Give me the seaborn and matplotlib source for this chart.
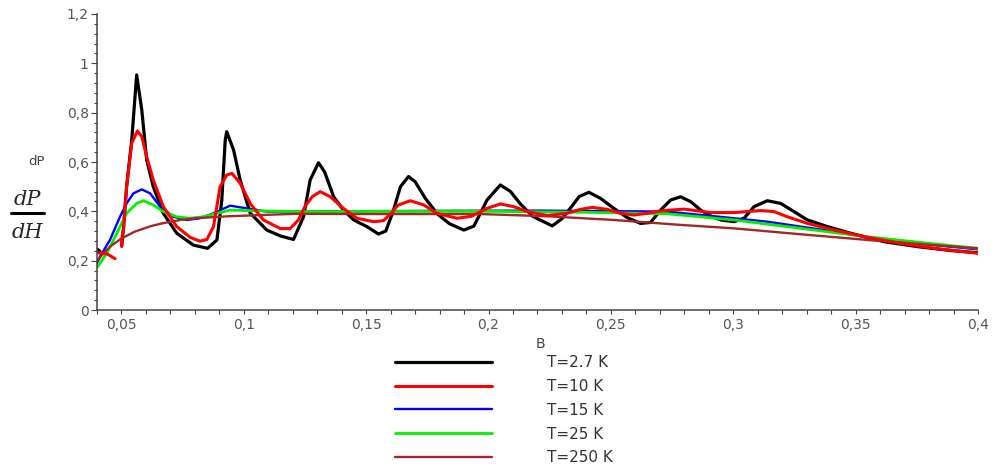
import matplotlib
matplotlib.use("Agg")
import matplotlib.pyplot as plt
from matplotlib.lines import Line2D
from matplotlib.ticker import MultipleLocator, FuncFormatter
import pandas as pd
import seaborn as sns

# T = 2.7 K (short stub at the left edge + main curve)
B_27_A = [0.0400, 0.0412]
DP_27_A = [0.247, 0.238]
B_27 = [0.0501, 0.0508, 0.0521, 0.0542, 0.0555, 0.0562, 0.0583, 0.0603, 0.0630, 0.0671,
        0.0726, 0.0794, 0.0852, 0.0890, 0.0910, 0.0924, 0.0930, 0.0958, 0.0985, 0.1026,
        0.1094, 0.1150, 0.1203, 0.1244, 0.1271, 0.1305, 0.1330, 0.1367, 0.1407, 0.1449,
        0.1503, 0.1550, 0.1580, 0.1610, 0.1640, 0.1673, 0.1700, 0.1740, 0.1790, 0.1840,
        0.1899, 0.1940, 0.1994, 0.2048, 0.2090, 0.2130, 0.2180, 0.2260, 0.2300, 0.2340,
        0.2370, 0.2410, 0.2457, 0.2512, 0.2566, 0.2621, 0.2662, 0.2703, 0.2744, 0.2785,
        0.2826, 0.2867, 0.2908, 0.2949, 0.3003, 0.3044, 0.3085, 0.3139, 0.3194, 0.3248,
        0.3303, 0.3385, 0.3480, 0.3616, 0.3752, 0.3889, 0.4000]
DP_27 = [0.262, 0.330, 0.500, 0.690, 0.860, 0.953, 0.811, 0.608, 0.500, 0.392,
         0.311, 0.263, 0.250, 0.284, 0.446, 0.689, 0.723, 0.649, 0.527, 0.393,
         0.324, 0.300, 0.286, 0.378, 0.527, 0.597, 0.560, 0.459, 0.405, 0.365,
         0.338, 0.308, 0.320, 0.400, 0.500, 0.541, 0.520, 0.455, 0.390, 0.350,
         0.324, 0.340, 0.446, 0.507, 0.480, 0.430, 0.380, 0.341, 0.370, 0.420,
         0.460, 0.477, 0.453, 0.412, 0.375, 0.351, 0.355, 0.405, 0.446, 0.459,
         0.439, 0.405, 0.381, 0.365, 0.358, 0.372, 0.419, 0.443, 0.432, 0.399,
         0.365, 0.338, 0.311, 0.277, 0.257, 0.241, 0.232]

# T = 10 K
B_10_A = [0.0400, 0.0440, 0.0474]
DP_10_A = [0.232, 0.228, 0.208]
B_10 = [0.0501, 0.0503, 0.0508, 0.0521, 0.0542, 0.0565, 0.0583, 0.0603, 0.0630, 0.0671,
        0.0726, 0.0780, 0.0821, 0.0849, 0.0876, 0.0903, 0.0930, 0.0951, 0.0985, 0.1026,
        0.1080, 0.1149, 0.1189, 0.1223, 0.1250, 0.1280, 0.1312, 0.1353, 0.1407, 0.1462,
        0.1530, 0.1570, 0.1600, 0.1630, 0.1680, 0.1735, 0.1789, 0.1871, 0.1930, 0.1994,
        0.2048, 0.2103, 0.2158, 0.2240, 0.2321, 0.2376, 0.2424, 0.2485, 0.2539, 0.2594,
        0.2648, 0.2703, 0.2798, 0.2908, 0.3003, 0.3112, 0.3166, 0.3221, 0.3303, 0.3412,
        0.3548, 0.3685, 0.3821, 0.4000]
DP_10 = [0.257, 0.300, 0.324, 0.500, 0.676, 0.726, 0.703, 0.622, 0.527, 0.419,
         0.338, 0.295, 0.279, 0.286, 0.338, 0.500, 0.547, 0.554, 0.514, 0.432,
         0.365, 0.330, 0.330, 0.365, 0.420, 0.460, 0.480, 0.459, 0.412, 0.372,
         0.358, 0.362, 0.390, 0.425, 0.443, 0.426, 0.392, 0.372, 0.380, 0.412,
         0.430, 0.419, 0.399, 0.383, 0.392, 0.408, 0.416, 0.408, 0.392, 0.385,
         0.392, 0.402, 0.409, 0.395, 0.395, 0.403, 0.399, 0.378, 0.351, 0.324,
         0.295, 0.270, 0.250, 0.230]

# T = 15 K
B_15 = [0.0400, 0.0412, 0.0453, 0.0494, 0.0521, 0.0549, 0.0583, 0.0617, 0.0658, 0.0712,
        0.0767, 0.0821, 0.0876, 0.0944, 0.1012, 0.1094, 0.1300, 0.1800, 0.2200, 0.2457,
        0.2730, 0.3003, 0.3139, 0.3276, 0.3412, 0.3548, 0.3685, 0.3821, 0.4000]
DP_15 = [0.190, 0.216, 0.284, 0.378, 0.432, 0.473, 0.489, 0.473, 0.419, 0.378,
         0.365, 0.372, 0.392, 0.423, 0.412, 0.399, 0.400, 0.402, 0.403, 0.401,
         0.399, 0.372, 0.358, 0.338, 0.318, 0.295, 0.277, 0.263, 0.246]

# T = 25 K
B_25 = [0.0400, 0.0440, 0.0481, 0.0521, 0.0562, 0.0589, 0.0630, 0.0671, 0.0726, 0.0780,
        0.0835, 0.0890, 0.0944, 0.1012, 0.1230, 0.1600, 0.2000, 0.2400, 0.2730, 0.3003,
        0.3276, 0.3548, 0.3821, 0.4000]
DP_25 = [0.172, 0.230, 0.311, 0.392, 0.432, 0.443, 0.426, 0.399, 0.378, 0.372,
         0.378, 0.392, 0.405, 0.403, 0.399, 0.400, 0.400, 0.396, 0.390, 0.365,
         0.331, 0.297, 0.268, 0.250]

# T = 250 K
B_250 = [0.0400, 0.0430, 0.0460, 0.0500, 0.0555, 0.0620, 0.0665, 0.0740, 0.0800, 0.0937,
         0.1210, 0.1557, 0.1967, 0.2240, 0.2512, 0.2785, 0.3003, 0.3276, 0.3548, 0.3821,
         0.4000]
DP_250 = [0.198, 0.235, 0.262, 0.290, 0.318, 0.340, 0.351, 0.365, 0.372, 0.380,
          0.390, 0.389, 0.389, 0.380, 0.365, 0.345, 0.331, 0.307, 0.284, 0.263,
          0.250]

LABELS = ["T=2.7 K", "T=10 K", "T=15 K", "T=25 K", "T=250 K"]
COLORS = ["#000000", "#ff0000", "#0000ff", "#00f000", "#a02828"]
WIDTHS = [2.3, 2.2, 1.7, 2.0, 1.7]
SEGMENTS = [
    [(B_27_A, DP_27_A), (B_27, DP_27)],
    [(B_10_A, DP_10_A), (B_10, DP_10)],
    [(B_15, DP_15)],
    [(B_25, DP_25)],
    [(B_250, DP_250)],
]
DRAW_ORDER = [0, 2, 3, 4, 1]


def to_frame(segments):
    parts = []
    for i, (b, dp) in enumerate(segments):
        parts.append(pd.DataFrame({"B": b, "dP": dp, "seg": i}))
    return pd.concat(parts, ignore_index=True)


sns.set_style("ticks")
plt.rcParams["font.family"] = ["DejaVu Sans"]

fig = plt.figure(figsize=(9.95, 4.66), dpi=100)
ax = fig.add_axes([97 / 995, 1 - 310 / 466, (978 - 97) / 995, (310 - 14) / 466])

for k in DRAW_ORDER:
    df = to_frame(SEGMENTS[k])
    sns.lineplot(data=df, x="B", y="dP", units="seg", estimator=None, sort=False,
                 color=COLORS[k], lw=WIDTHS[k], ax=ax)

ax.set_xlim(0.04, 0.4)
ax.set_ylim(0, 1.2)
ax.xaxis.set_major_locator(MultipleLocator(0.05))
ax.xaxis.set_minor_locator(MultipleLocator(0.01))
ax.yaxis.set_major_locator(MultipleLocator(0.2))
ax.yaxis.set_minor_locator(MultipleLocator(0.04))
comma = FuncFormatter(lambda v, p: ("%g" % round(v, 3)).replace(".", ","))
ax.xaxis.set_major_formatter(comma)
ax.yaxis.set_major_formatter(comma)
ax.set_xlabel("")
ax.set_ylabel("")
sns.despine(ax=ax)
for s in ("left", "bottom"):
    ax.spines[s].set_color("#444444")
    ax.spines[s].set_linewidth(1.1)
ax.tick_params(axis="both", which="both", color="#444444", width=0.8,
               labelcolor="#555555", labelsize=10)
ax.tick_params(axis="x", which="both", length=3, pad=3)
ax.tick_params(axis="y", which="major", length=4, pad=2)
ax.tick_params(axis="y", which="minor", length=2.5)

fig.text(37 / 995, 1 - 162 / 466, "dP", fontsize=9.5, color="#444444",
         ha="center", va="center")
fig.text(540 / 995, 1 - 344 / 466, "B", fontsize=10, color="#444444",
         ha="center", va="center")

# dP/dH fraction to the left of the axis
fig.text(27 / 995, 1 - 199 / 466, "dP", family="DejaVu Serif", style="italic",
         fontsize=15, ha="center", va="center")
fig.add_artist(Line2D([11 / 995, 44 / 995], [1 - 213 / 466] * 2,
                      transform=fig.transFigure, color="black", lw=2.2))
fig.text(27 / 995, 1 - 232 / 466, "dH", family="DejaVu Serif", style="italic",
         fontsize=15, ha="center", va="center")

handles = [Line2D([], [], color=c, lw=w) for c, w in zip(COLORS, WIDTHS)]
fig.legend(handles, LABELS, loc="upper left", bbox_to_anchor=(395 / 995, 1 - 355 / 466),
           frameon=False, handlelength=6.35, handletextpad=3.6, labelspacing=0.58,
           fontsize=11, borderpad=0, borderaxespad=0, labelcolor="#333333")

fig.savefig("out.png", dpi=100)
